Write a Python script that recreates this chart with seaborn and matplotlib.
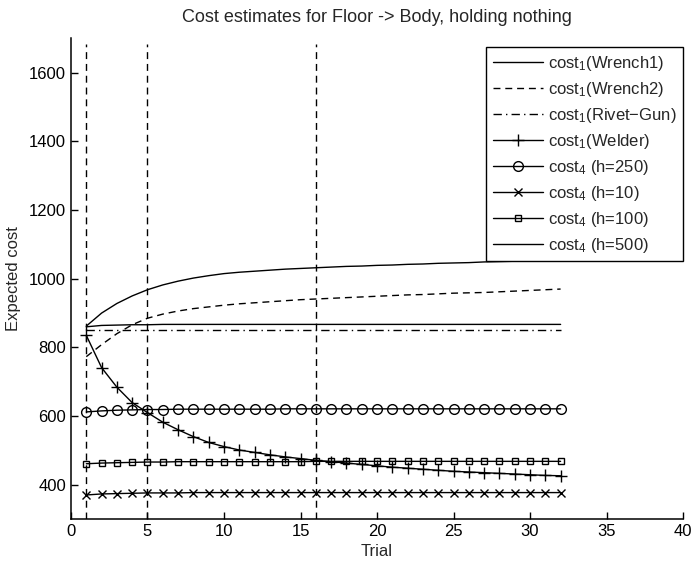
import numpy as np
import pandas as pd
import seaborn as sns
import matplotlib.pyplot as plt

sns.set_style("ticks")
plt.rcParams['font.family'] = ['Liberation Sans', 'DejaVu Sans']
plt.rcParams['mathtext.default'] = 'regular'

trials = list(range(1, 33))

# cost_1 estimates
wrench1 = [862, 900, 928, 950, 968, 982, 993, 1002, 1009, 1015, 1019, 1022,
           1025, 1028, 1030, 1032, 1034, 1036, 1037, 1039, 1040, 1042, 1043, 1045,
           1046, 1047, 1049, 1050, 1051, 1052, 1053, 1054]
wrench2 = [773, 808, 840, 866, 885, 897, 906, 913, 918, 923, 927, 930,
           933, 936, 939, 941, 943, 945, 947, 949, 951, 953, 954, 956,
           958, 959, 960, 962, 964, 966, 968, 970]
rivet_gun = [852] * 32
welder = [835, 741, 684, 639, 610, 582, 560, 540, 523, 511, 501, 494,
          487, 481, 476, 471, 467, 463, 459, 455, 451, 448, 445, 442,
          439, 437, 435, 433, 431, 429, 427, 426]

# cost_4 estimates
h250 = [612, 615, 617, 618, 619, 619, 620, 620, 620, 620, 620, 620,
        620, 621, 621, 621, 621, 621, 621, 621, 621, 621, 621, 621,
        621, 621, 621, 621, 621, 621, 621, 621]
h10 = [370, 373, 374, 375, 376, 376, 376, 377, 377, 377, 377, 377,
       377, 377, 377, 377, 377, 377, 377, 377, 377, 377, 377, 377,
       377, 377, 377, 377, 377, 377, 377, 377]
h100 = [461, 463, 464, 465, 466, 466, 467, 467, 467, 467, 467, 467,
        467, 467, 467, 468, 468, 468, 468, 468, 468, 468, 468, 468,
        468, 468, 468, 468, 468, 468, 468, 468]
h500 = [860, 864, 865, 866, 866, 867, 867, 867, 867, 867, 867, 867,
        867, 867, 867, 867, 867, 867, 867, 867, 867, 867, 867, 867,
        867, 867, 867, 867, 867, 867, 867, 867]

vlines = [1, 5, 16]

labels = ['cost$_1$(Wrench1)', 'cost$_1$(Wrench2)', 'cost$_1$(Rivet\u2212Gun)',
          'cost$_1$(Welder)', 'cost$_4$ (h=250)', 'cost$_4$ (h=10)',
          'cost$_4$ (h=100)', 'cost$_4$ (h=500)']
series = [wrench1, wrench2, rivet_gun, welder, h250, h10, h100, h500]
styles = [('-', None, 0), ((0, (5, 3.5)), None, 0), ((0, (6, 3, 1, 3)), None, 0),
          ('-', '+', 8), ('-', 'o', 7), ('-', 'x', 5.5), ('-', 's', 5), ('-', None, 0)]

df = pd.DataFrame({'Trial': trials * len(series),
                   'cost': np.concatenate(series),
                   'name': np.repeat(labels, len(trials))})

fig = plt.figure(figsize=(6.92, 5.62), dpi=100)
ax = fig.add_axes([0.1026, 0.0765, 0.8844, 0.855])

for lab, (ls, mk, ms) in zip(labels, styles):
    sub = df[df['name'] == lab]
    sns.lineplot(data=sub, x='Trial', y='cost', ax=ax, color='black',
                 linestyle=ls, marker=mk, markersize=ms, mfc='none',
                 mec='black', mew=1.0, linewidth=1.0, label=lab)

ax.vlines(vlines, 300, 1685, colors='black', linestyles=(0, (5, 3.5)), linewidth=1.0)

ax.set_xlim(0, 40)
ax.set_ylim(300, 1700)
ax.set_xticks(range(0, 41, 5))
ax.set_yticks(range(400, 1601, 200))
ax.tick_params(direction='in', length=5, labelsize=12, width=1, colors='black')
for s in ['top', 'right']:
    ax.spines[s].set_visible(False)
for s in ['left', 'bottom']:
    ax.spines[s].set_linewidth(1.1)
    ax.spines[s].set_color('black')

ax.set_xlabel('Trial', fontsize=12, labelpad=4)
ax.set_ylabel('Expected cost', fontsize=12, labelpad=6)
ax.set_title('Cost estimates for Floor -> Body, holding nothing', fontsize=13, pad=12)

leg = ax.legend(loc='upper right', bbox_to_anchor=(1.0, 0.982), borderaxespad=0,
                fontsize=12, fancybox=False, framealpha=1, edgecolor='black',
                handlelength=3.0, handletextpad=0.3, labelspacing=0.42, borderpad=0.4)
leg.get_frame().set_linewidth(1.0)

fig.savefig('out.png', dpi=100)
